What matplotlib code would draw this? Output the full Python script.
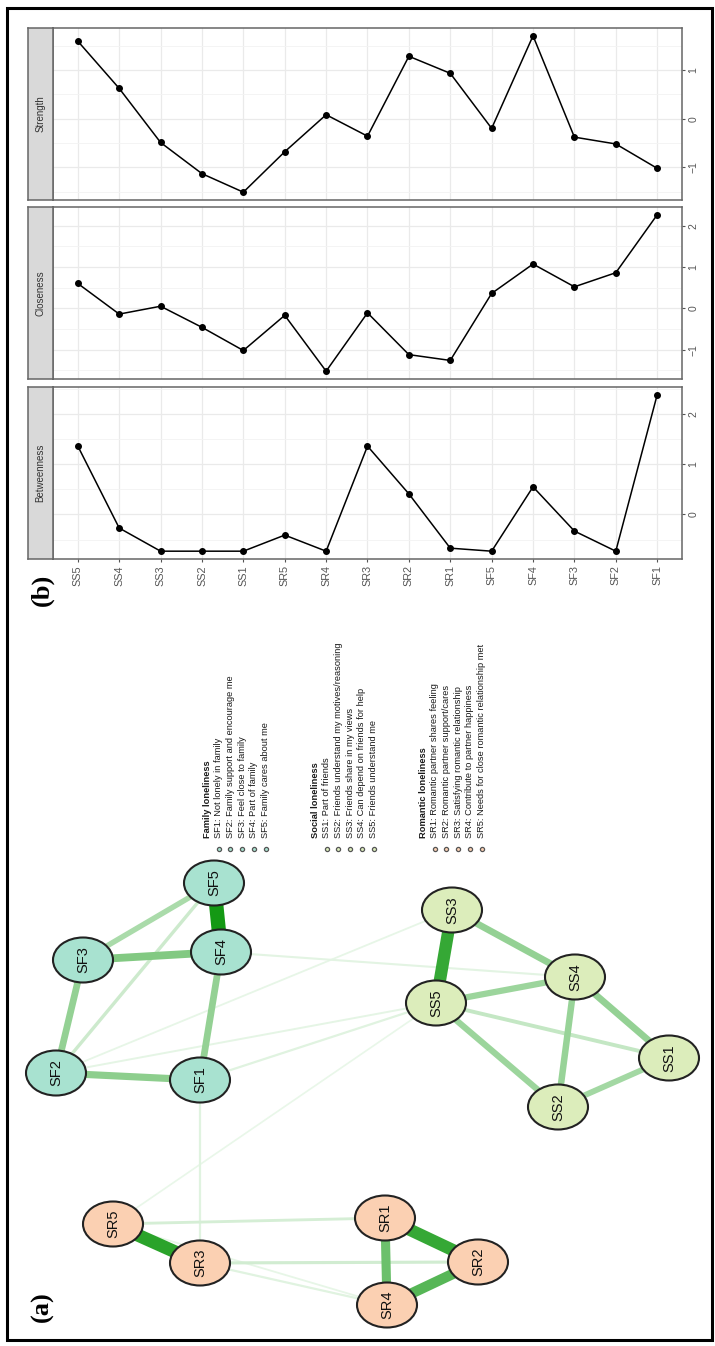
import numpy as np
import matplotlib.pyplot as plt
from matplotlib.patches import Ellipse, Rectangle

plt.rcParams['font.family'] = ['Liberation Sans', 'DejaVu Sans']

#-----Data-----#

Items = ["SS5", "SS4", "SS3", "SS2", "SS1", "SR5", "SR4", "SR3",
         "SR2", "SR1", "SF5", "SF4", "SF3", "SF2", "SF1"]
Strength = [1.59, 0.62, -0.49, -1.13, -1.51, -0.68, 0.08, -0.36,
            1.28, 0.93, -0.20, 1.70, -0.38, -0.52, -1.02]
Closeness = [0.60, -0.14, 0.05, -0.46, -1.02, -0.17, -1.52, -0.11,
             -1.12, -1.26, 0.36, 1.07, 0.52, 0.86, 2.26]
Betweenness = [1.36, -0.27, -0.73, -0.73, -0.73, -0.41, -0.73, 1.36,
               0.41, -0.67, -0.73, 0.55, -0.33, -0.73, 2.38]

#network layout (pixel positions of the nodes)
NodeNames = ["SF1", "SF2", "SF3", "SF4", "SF5",
             "SS1", "SS2", "SS3", "SS4", "SS5",
             "SR1", "SR2", "SR3", "SR4", "SR5"]
NodeX = [200, 56, 83, 221, 214, 669, 558, 452, 575, 436, 385, 478, 200, 387, 113]
NodeY = [1080, 1073, 960, 952, 883, 1058, 1107, 910, 977, 1003, 1218, 1262, 1263, 1305, 1224]

#edges with their weight (0..1)
Edges = [("SF4", "SF5", 1.00), ("SR1", "SR2", 0.85), ("SS5", "SS3", 0.85),
         ("SR5", "SR3", 0.90), ("SR2", "SR4", 0.70), ("SR1", "SR4", 0.60),
         ("SF3", "SF4", 0.50), ("SF2", "SF1", 0.45), ("SF1", "SF4", 0.42),
         ("SF2", "SF3", 0.42), ("SS3", "SS4", 0.42), ("SS4", "SS1", 0.42),
         ("SS4", "SS2", 0.40), ("SS5", "SS4", 0.38), ("SS5", "SS2", 0.38),
         ("SS2", "SS1", 0.35), ("SF3", "SF5", 0.32), ("SS5", "SS1", 0.20),
         ("SF2", "SF5", 0.16), ("SR5", "SR1", 0.12), ("SR3", "SR2", 0.14),
         ("SR3", "SR4", 0.07), ("SR5", "SR4", 0.04), ("SF1", "SR3", 0.07),
         ("SR5", "SS5", 0.03), ("SF4", "SS4", 0.06), ("SF1", "SS5", 0.07),
         ("SF2", "SS5", 0.05), ("SF2", "SS3", 0.04)]

GroupColors = {"SF": "#A8E2D0", "SS": "#DCEDBB", "SR": "#FBD0B2"}

LegendTitles = ["Family loneliness", "Social loneliness", "Romantic loneliness"]
FamilyItems = ["SF1: Not lonely in family", "SF2: Family support and encourage me",
               "SF3: Feel close to family", "SF4: Part of family",
               "SF5: Family cares about me"]
SocialItems = ["SS1: Part of friends", "SS2: Friends understand my motives/reasoning",
               "SS3: Friends share in my views", "SS4: Can depend on friends for help",
               "SS5: Friends understand me"]
RomanticItems = ["SR1: Romantic partner shares feeling", "SR2: Romantic partner support/cares",
                 "SR3: Satisfying romantic relationship", "SR4: Contribute to partner happiness",
                 "SR5: Needs for close romantic relationship met"]

#--/--Data--/--#

W, H = 715, 1346
fig = plt.figure(figsize=(W / 100, H / 100), dpi=100)

#-----Network panel (a)-----#
ax0 = fig.add_axes([0, 0, 1, 1])
ax0.set_xlim(0, W)
ax0.set_ylim(H, 0)
ax0.axis('off')

Pos = {n: (x, y) for n, x, y in zip(NodeNames, NodeX, NodeY)}

#weight -> colour and width, light and thin for weak edges
def EdgeStyle(w):
    light = np.array([0.94, 0.98, 0.94])
    dark = np.array([0.08, 0.60, 0.08])
    return light + (dark - light) * w, (1.3 + 13.0 * w) * 0.72

for a, b, w in sorted(Edges, key=lambda e: e[2]):
    col, lw = EdgeStyle(w)
    ax0.plot([Pos[a][0], Pos[b][0]], [Pos[a][1], Pos[b][1]], color=col, lw=lw,
             solid_capstyle='butt', zorder=1)

for n in NodeNames:
    x, y = Pos[n]
    ax0.add_patch(Ellipse((x, y), 60, 45, facecolor=GroupColors[n[:2]],
                          edgecolor='#222222', lw=1.5, zorder=2))
    ax0.text(x, y, n, rotation=90, ha='center', va='center', fontsize=10.5,
             color='#111111', zorder=3)

#legend
for g, (title, items, key) in enumerate(zip(LegendTitles,
                                           [FamilyItems, SocialItems, RomanticItems],
                                           ["SF", "SS", "SR"])):
    x0 = 207 + 108 * g
    ax0.text(x0, 838, title, rotation=90, ha='center', va='bottom',
             fontsize=6.7, fontweight='bold', color='#1A1A1A')
    for i, item in enumerate(items):
        xi = x0 + 11.7 * (i + 1)
        ax0.text(xi, 838, item, rotation=90, ha='center', va='bottom',
                 fontsize=6.7, color='#1A1A1A')
        ax0.scatter([xi], [849], s=9, facecolor=GroupColors[key],
                    edgecolor='#555555', linewidth=0.9, zorder=3)

ax0.text(42, 1307, "(a)", rotation=90, ha='center', va='center', fontsize=19,
         fontweight='bold', family=['Liberation Serif', 'DejaVu Serif'])
ax0.text(42, 590, "(b)", rotation=90, ha='center', va='center', fontsize=19,
         fontweight='bold', family=['Liberation Serif', 'DejaVu Serif'])
ax0.add_patch(Rectangle((7, 8), 705, 1332, fill=False, edgecolor='black', lw=2.2))

#-----Centrality panel (b)-----#
Panels = [("Strength", Strength, 28, 200),
          ("Closeness", Closeness, 207, 379),
          ("Betweenness", Betweenness, 387, 559)]

x = np.arange(len(Items))
for k, (name, vals, top, bot) in enumerate(Panels):
    ax = fig.add_axes([53 / W, 1 - bot / H, 629 / W, (bot - top) / H])
    ax.plot(x, vals, color='black', lw=1.1, marker='o', ms=4.0, zorder=3)
    lo, hi = min(vals), max(vals)
    pad = 0.05 * (hi - lo)
    ax.set_ylim(lo - pad, hi + pad)
    ax.set_xlim(-0.6, len(Items) - 0.4)
    ticks = np.arange(np.ceil(lo - pad), np.floor(hi + pad) + 1)
    minor = np.arange(np.ceil((lo - pad) * 2), np.floor((hi + pad) * 2) + 1) / 2
    ax.yaxis.tick_right()
    ax.set_yticks(ticks)
    ax.set_yticklabels(["%d" % t if t >= 0 else "\u2212%d" % -t for t in ticks],
                       rotation=90, va='center', ha='left')
    ax.set_yticks(minor, minor=True)
    ax.set_xticks(x)
    if k == len(Panels) - 1:
        ax.set_xticklabels(Items, rotation=90, va='top', ha='center')
        ax.tick_params(axis='x', length=2.5, color='#555555', labelcolor='#555555',
                       labelsize=7.8, pad=2)
    else:
        ax.set_xticklabels([])
        ax.tick_params(axis='x', length=0)
    ax.tick_params(axis='y', which='major', length=2.5, color='#555555',
                   labelcolor='#555555', labelsize=7.5, pad=2)
    ax.tick_params(axis='y', which='minor', length=0)
    ax.grid(which='major', color='#EAEAEA', lw=0.9)
    ax.grid(which='minor', axis='y', color='#F3F3F3', lw=0.6)
    ax.set_axisbelow(True)
    for sp in ax.spines.values():
        sp.set_color('#666666')
        sp.set_linewidth(1.1)

    st = fig.add_axes([28 / W, 1 - bot / H, 25 / W, (bot - top) / H])
    st.set_facecolor('#D9D9D9')
    st.set_xticks([])
    st.set_yticks([])
    for sp in st.spines.values():
        sp.set_color('#666666')
        sp.set_linewidth(1.1)
    st.text(0.5, 0.5, name, rotation=90, ha='center', va='center',
            fontsize=7, color='#333333', transform=st.transAxes)

fig.savefig("out.png", dpi=100)
